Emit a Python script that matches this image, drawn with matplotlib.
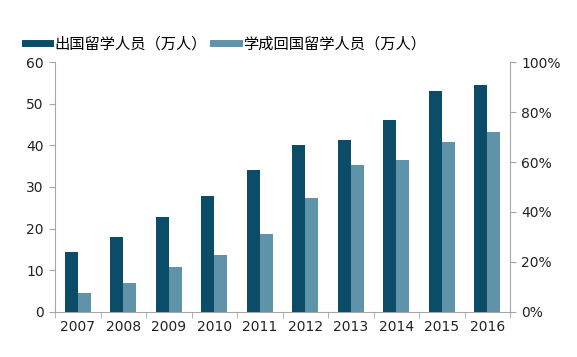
import matplotlib
matplotlib.use("Agg")
import matplotlib.pyplot as plt
import matplotlib.lines as mlines
import matplotlib.ticker as mticker
import numpy as np

plt.rcParams['font.family'] = ['Noto Sans CJK SC', 'DejaVu Sans']

# ── data ──────────────────────────────────────────────────────────────────────
years = ["2007", "2008", "2009", "2010", "2011", "2012", "2013", "2014", "2015", "2016"]
outbound = [14.4, 18.0, 22.9, 27.9, 34.0, 40.0, 41.4, 46.0, 53.2, 54.5]
returned = [4.4, 6.9, 10.8, 13.7, 18.8, 27.3, 35.4, 36.5, 40.9, 43.3]
label_out = "出国留学人员（万人）"
label_ret = "学成回国留学人员（万人）"

dark = "#0B4D69"
light = "#5E93A9"
grey = "#A6A6A6"

# ── figure ────────────────────────────────────────────────────────────────────
fig = plt.figure(figsize=(5.77, 3.57), dpi=100)
ax = fig.add_axes([55 / 577, 45.3 / 357, 455 / 577, 249.4 / 357])

x = np.arange(len(years))
w = 0.29
ax.bar(x - w / 2, outbound, w, color=dark, zorder=3)
ax.bar(x + w / 2, returned, w, color=light, zorder=3)

ax.set_xlim(-0.5, len(years) - 0.5)
ax.set_ylim(0, 60)
ax.set_yticks(range(0, 61, 10))
ax.set_xticks(x)
ax.set_xticklabels(years)
ax.set_xticks(np.arange(-0.5, len(years), 1), minor=True)
ax.tick_params(axis="x", which="major", length=0, pad=6)
ax.tick_params(axis="x", which="minor", length=4, color=grey)
ax.tick_params(axis="y", length=4, color=grey, pad=4)
ax.tick_params(labelsize=10, labelcolor="#222222")
for lab in ax.get_xticklabels() + ax.get_yticklabels():
    lab.set_family("DejaVu Sans")

for side in ["top", "right"]:
    ax.spines[side].set_visible(False)
for side in ["left", "bottom"]:
    ax.spines[side].set_color(grey)

# right axis, percentage scale
ax2 = ax.twinx()
ax2.set_ylim(0, 1)
ax2.set_yticks(np.arange(0, 1.01, 0.2))
ax2.yaxis.set_major_formatter(mticker.PercentFormatter(1.0, decimals=0))
ax2.tick_params(axis="y", length=4, color=grey, labelsize=10, labelcolor="#222222", pad=4)
for lab in ax2.get_yticklabels():
    lab.set_family("DejaVu Sans")
for side in ["top", "left", "bottom"]:
    ax2.spines[side].set_visible(False)
ax2.spines["right"].set_color(grey)

# legend
handles = [
    mlines.Line2D([], [], color=dark, linewidth=5, label=label_out),
    mlines.Line2D([], [], color=light, linewidth=5, label=label_ret),
]
fig.legend(handles=handles, loc="center left", bbox_to_anchor=(25 / 577, 1 - 44 / 357),
           ncol=2, frameon=False, fontsize=11, handlelength=1.65, handletextpad=0.3,
           columnspacing=0.4, borderaxespad=0, borderpad=0)

fig.savefig("out.png", dpi=100)
